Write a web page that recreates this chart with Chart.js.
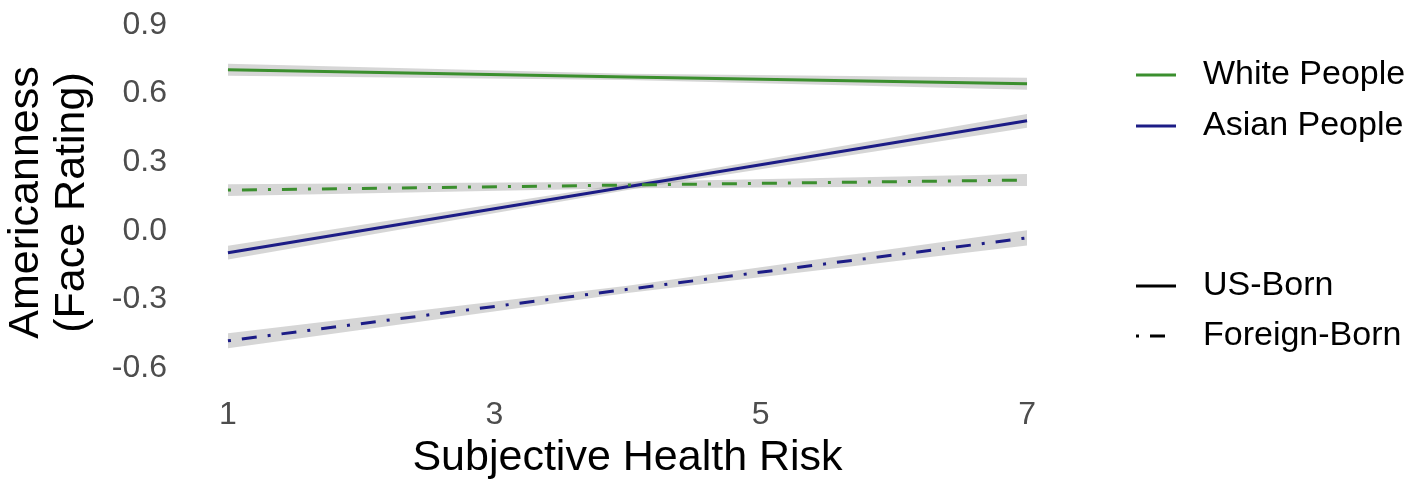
<!DOCTYPE html>
<html>
<head>
<meta charset="utf-8">
<script src="https://cdn.jsdelivr.net/npm/chart.js@4.4.0/dist/chart.umd.min.js"></script>
<style>
  html, body { margin: 0; padding: 0; background: #ffffff; }
  #wrap { width: 1418px; height: 492px; position: relative; }
</style>
</head>
<body>
<div id="wrap"><canvas id="c"></canvas></div>
<script>
// ---- data ----
const riskLevels = [1, 4, 7];

const whiteUS        = [0.704, 0.673, 0.643];
const whiteUSLow     = [0.678, 0.659, 0.617];
const whiteUSHigh    = [0.730, 0.687, 0.669];

const whiteForeign     = [0.178, 0.200, 0.222];
const whiteForeignLow  = [0.152, 0.186, 0.196];
const whiteForeignHigh = [0.204, 0.214, 0.248];

const asianUS        = [-0.096, 0.193, 0.481];
const asianUSLow     = [-0.126, 0.178, 0.451];
const asianUSHigh    = [-0.066, 0.208, 0.511];

const asianForeign     = [-0.481, -0.256, -0.031];
const asianForeignLow  = [-0.514, -0.272, -0.064];
const asianForeignHigh = [-0.448, -0.240, 0.002];

const xTicks = [1, 3, 5, 7];
const yTicks = [-0.6, -0.3, 0.0, 0.3, 0.6, 0.9];

const groupLabels = ['White People', 'Asian People'];
const birthLabels = ['US-Born', 'Foreign-Born'];
const xTitle = 'Subjective Health Risk';
const yTitle = ['Americanness', '(Face Rating)'];

// ---- styles ----
const GREEN = '#3b8f2e';
const BLUE = '#1c1c86';
const BAND = 'rgba(153,153,153,0.4)';
const DASH = [3, 11, 15, 11];
const FONT = "'Liberation Sans', Arial, Helvetica, sans-serif";

const pts = arr => arr.map((v, i) => ({ x: riskLevels[i], y: v }));

function bandPair(low, high) {
  return [
    { data: pts(low), borderWidth: 0, pointRadius: 0, fill: false, order: 2, backgroundColor: BAND, borderColor: 'rgba(0,0,0,0)' },
    { data: pts(high), borderWidth: 0, pointRadius: 0, fill: '-1', order: 2, backgroundColor: BAND, borderColor: 'rgba(0,0,0,0)' }
  ];
}

function lineDs(vals, color, dashed) {
  return { data: pts(vals), borderColor: color, borderWidth: 3, pointRadius: 0, fill: false, order: 1,
           borderDash: dashed ? DASH : [], borderCapStyle: 'butt', tension: 0 };
}

const datasets = [
  ...bandPair(whiteUSLow, whiteUSHigh),
  ...bandPair(whiteForeignLow, whiteForeignHigh),
  ...bandPair(asianUSLow, asianUSHigh),
  ...bandPair(asianForeignLow, asianForeignHigh),
  lineDs(whiteUS, GREEN, false),
  lineDs(whiteForeign, GREEN, true),
  lineDs(asianUS, BLUE, false),
  lineDs(asianForeign, BLUE, true)
];

const legendPlugin = {
  id: 'customLegend',
  afterDraw(chart) {
    const ctx = chart.ctx;
    ctx.save();
    const x0 = 1136, x1 = 1176, tx = 1203;
    const items = [
      { y: 75,  color: GREEN, dash: [], label: groupLabels[0] },
      { y: 126, color: BLUE,  dash: [], label: groupLabels[1] },
      { y: 286, color: '#000000', dash: [], label: birthLabels[0] },
      { y: 336, color: '#000000', dash: DASH, label: birthLabels[1] }
    ];
    items.forEach(it => {
      ctx.beginPath();
      ctx.setLineDash(it.dash);
      ctx.lineCap = 'butt';
      ctx.lineWidth = 3;
      ctx.strokeStyle = it.color;
      ctx.moveTo(x0, it.y);
      ctx.lineTo(x1, it.y);
      ctx.stroke();
      ctx.setLineDash([]);
      ctx.fillStyle = '#000000';
      ctx.font = '34px ' + FONT;
      ctx.textAlign = 'left';
      ctx.textBaseline = 'middle';
      ctx.fillText(it.label, tx, it.y);
    });
    ctx.restore();
  }
};

new Chart(document.getElementById('c'), {
  type: 'line',
  data: { datasets },
  plugins: [legendPlugin],
  options: {
    responsive: true,
    maintainAspectRatio: false,
    animation: false,
    layout: { padding: { left: 0, right: 351, top: 14, bottom: 0 } },
    plugins: { legend: { display: false }, tooltip: { enabled: false } },
    scales: {
      x: {
        type: 'linear',
        min: 0.7, max: 7.3,
        afterFit(s) { s.height = 101; s.paddingLeft = 0; s.paddingRight = 0; s.paddingTop = 0; s.paddingBottom = 0; },
        afterBuildTicks(s) { s.ticks = xTicks.map(v => ({ value: v })); },
        grid: { display: false, drawTicks: false },
        border: { display: false },
        ticks: { color: '#4d4d4d', padding: 5, font: { family: FONT, size: 32 }, callback: v => String(v) },
        title: { display: true, text: xTitle, color: '#000000', font: { family: FONT, size: 43, lineHeight: 1.07 }, padding: { top: 0, bottom: 11 } }
      },
      y: {
        type: 'linear',
        min: -0.7006, max: 0.948,
        afterFit(s) { s.width = 188; s.paddingTop = 0; s.paddingBottom = 0; s.paddingLeft = 0; s.paddingRight = 0; },
        afterBuildTicks(s) { s.ticks = yTicks.map(v => ({ value: v })); },
        grid: { display: false, drawTicks: false },
        border: { display: false },
        ticks: { color: '#4d4d4d', padding: 21, font: { family: FONT, size: 32 }, callback: v => Number(v).toFixed(1) },
        title: { display: true, text: yTitle, color: '#000000', font: { family: FONT, size: 43, lineHeight: 1.07 }, padding: { top: 3, bottom: 0 } }
      }
    }
  }
});
</script>
</body>
</html>
